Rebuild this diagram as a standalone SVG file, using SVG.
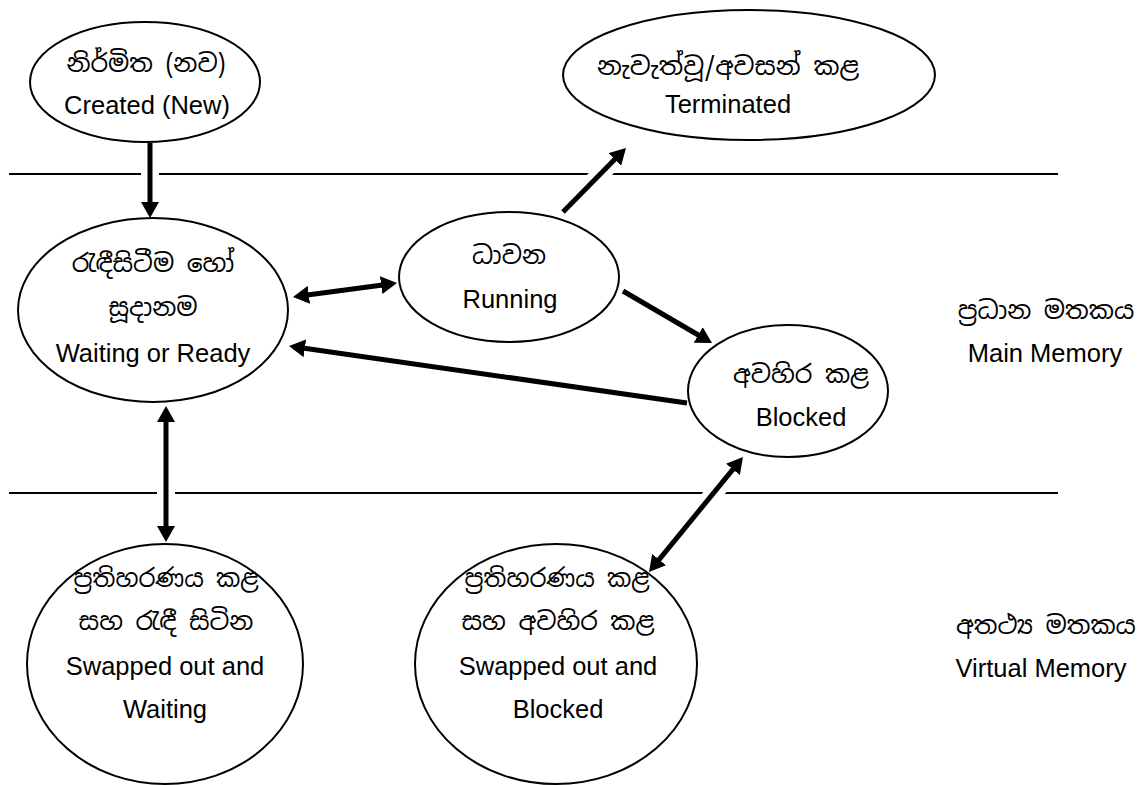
<svg xmlns="http://www.w3.org/2000/svg" width="1145" height="785" viewBox="0 0 1145 785">
<defs>
<style>
.bg{fill:#fff}
.sep{stroke:#000;stroke-width:2;fill:none}
.node ellipse{fill:#fff;stroke:#000;stroke-width:2}
.t{font-family:"Liberation Sans",Arial,sans-serif;font-size:25.5px;fill:#000;text-anchor:middle}
.si{font-family:"Noto Sans Sinhala","Noto Serif Sinhala","Iskoola Pota","LKLUG","Noto Sans",sans-serif;font-size:25px;fill:#000;text-anchor:middle}
.halo{stroke:#fff;stroke-width:18;fill:none}
.arr{stroke:#000;stroke-width:5;fill:none}
.one{marker-end:url(#ah)}
.two{marker-start:url(#ah);marker-end:url(#ah)}
</style>
<marker id="ah" markerUnits="userSpaceOnUse" markerWidth="16" markerHeight="18" refX="11" refY="9" orient="auto-start-reverse" viewBox="0 0 16 18">
<path d="M0,0 L16,9 L0,18 z" fill="#000"/>
</marker>
</defs>
<rect class="bg" x="0" y="0" width="1145" height="785"/>
<g id="separators">
<line class="sep" x1="9" y1="174" x2="1058" y2="174"/>
<line class="sep" x1="9" y1="493" x2="1058" y2="493"/>
</g>
<g id="created" class="node">
<ellipse cx="145" cy="82" rx="115" ry="60"/>
<text class="si" x="146" y="72">නිර්මිත (නව)</text>
<text class="t" x="147" y="114">Created (New)</text>
</g>
<g id="terminated" class="node">
<ellipse cx="749" cy="75" rx="186" ry="65"/>
<text class="si" x="728" y="75" textLength="262" lengthAdjust="spacingAndGlyphs">නැවැත්වූ/අවසන් කළ</text>
<text class="t" x="728" y="113">Terminated</text>
</g>
<g id="waiting" class="node">
<ellipse cx="153" cy="310" rx="135" ry="92"/>
<text class="si" x="153" y="272">රැඳීසිටීම හෝ</text>
<text class="si" x="153" y="316">සූදානම</text>
<text class="t" x="153" y="362">Waiting or Ready</text>
</g>
<g id="running" class="node">
<ellipse cx="509" cy="277" rx="110" ry="65"/>
<text class="si" x="509" y="264">ධාවන</text>
<text class="t" x="510" y="308">Running</text>
</g>
<g id="blocked" class="node">
<ellipse cx="788" cy="391" rx="100" ry="66"/>
<text class="si" x="801" y="383">අවහිර කළ</text>
<text class="t" x="801" y="426">Blocked</text>
</g>
<g id="swapped-waiting" class="node">
<ellipse cx="165" cy="664" rx="138" ry="120"/>
<text class="si" x="166" y="587" textLength="185" lengthAdjust="spacingAndGlyphs">ප්‍රතිහරණය කළ</text>
<text class="si" x="166" y="630">සහ රැඳී සිටින</text>
<text class="t" x="165" y="675">Swapped out and</text>
<text class="t" x="165" y="718">Waiting</text>
</g>
<g id="swapped-blocked" class="node">
<ellipse cx="556" cy="664" rx="141" ry="120"/>
<text class="si" x="557" y="587" textLength="185" lengthAdjust="spacingAndGlyphs">ප්‍රතිහරණය කළ</text>
<text class="si" x="558" y="630">සහ අවහිර කළ</text>
<text class="t" x="558" y="675">Swapped out and</text>
<text class="t" x="558" y="718">Blocked</text>
</g>
<g id="main-memory-label">
<text class="si" x="1046" y="319">ප්‍රධාන මතකය</text>
<text class="t" x="1045" y="362">Main Memory</text>
</g>
<g id="virtual-memory-label">
<text class="si" x="1046" y="634">අතථ්‍ය මතකය</text>
<text class="t" x="1041" y="677">Virtual Memory</text>
</g>
<g id="connectors">
<g id="halos">
<line class="halo" x1="150" y1="146" x2="150" y2="216"/>
<line class="halo" x1="565" y1="210" x2="624" y2="150"/>
<line class="halo" x1="166" y1="408" x2="166" y2="540"/>
<line class="halo" x1="741" y1="460" x2="651" y2="570"/>
</g>
<path class="arr one" d="M150,143 L150,213"/>
<path class="arr two" d="M297.96,296.33 L392.04,283.67"/>
<path class="arr one" d="M687,403 L293.95,346.71"/>
<path class="arr one" d="M563,212 L622.49,151.56"/>
<path class="arr one" d="M623,291 L707.68,340.48"/>
<path class="arr two" d="M166,411 L166,537"/>
<path class="arr two" d="M739.84,460.87 L652.16,568.13"/>
</g>
</svg>
